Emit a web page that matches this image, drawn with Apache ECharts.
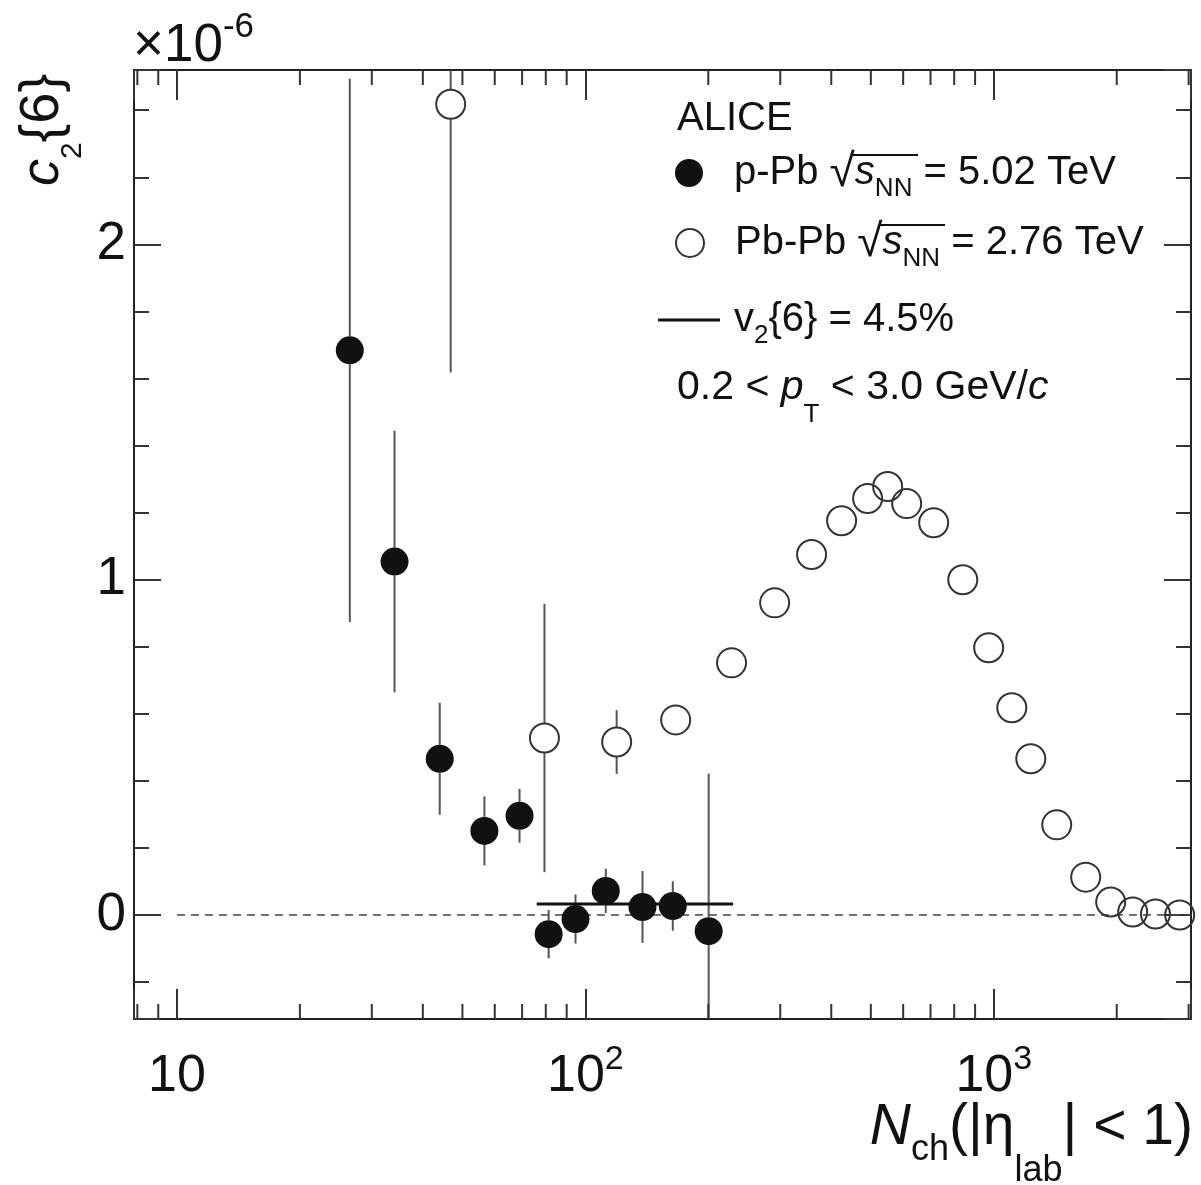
<!DOCTYPE html>
<html>
<head>
<meta charset="utf-8">
<script src="https://cdn.jsdelivr.net/npm/echarts@6/dist/echarts.min.js"></script>
<style>
html, body { margin: 0; padding: 0; background: #fff; }
#chart { width: 1201px; height: 1185px; }
</style>
</head>
<body>
<div id="chart"></div>
<script>
// axis ranges
var xMin = 7.85, xMax = 3040;
var yMin = -0.31, yMax = 2.52;

// p-Pb 5.02 TeV (filled)
var pPbX = [26.5, 34.1, 44.0, 56.6, 69.0, 81.3, 94.6, 112.2, 138, 163.7, 200.4];
var pPbY = [1.684, 1.054, 0.466, 0.251, 0.296, -0.057, -0.012, 0.072, 0.024, 0.027, -0.048];
var pPbErr = [0.81, 0.39, 0.167, 0.103, 0.08, 0.072, 0.073, 0.066, 0.107, 0.074, 0.47];

// Pb-Pb 2.76 TeV (open)
var PbPbX = [46.8, 79.4, 119.3, 166.4, 228, 290.7, 358, 424, 491, 549.7, 612, 712.6, 839.6, 971.6, 1107, 1232, 1426, 1679, 1933, 2188, 2488, 2852];
var PbPbY = [2.418, 0.528, 0.516, 0.582, 0.752, 0.931, 1.075, 1.176, 1.242, 1.278, 1.227, 1.170, 1.0, 0.797, 0.618, 0.466, 0.269, 0.113, 0.039, 0.009, 0.003, 0.0];
var PbPbErr = [0.80, 0.40, 0.095, 0.02, 0.02, 0.02, 0.02, 0.02, 0.02, 0.02, 0.02, 0.02, 0.02, 0.02, 0.02, 0.02, 0.02, 0.02, 0.02, 0.02, 0.02, 0.02];

// v2{6} = 4.5%  ->  c2{6} = 4 * v^6
var v2X = [76, 230];
var v2Val = 4 * Math.pow(0.045, 6) * 1e6;

// ticks
var xMajorTicks = [10, 100, 1000];
var xTickLabels = ['10', '10{sup|2}', '10{sup|3}'];
var xMinorTicks = [8, 9, 20, 30, 40, 50, 60, 70, 80, 90, 200, 300, 400, 500, 600, 700, 800, 900, 2000, 3000];
var yTicks = [0, 1, 2];
var zeroLineX = [10, xMax];

var FONT = 'Liberation Sans, Arial, Helvetica, sans-serif';

function pairs(xs, ys, es) {
    return xs.map(function (x, i) { return es ? [x, ys[i], es[i]] : [x, ys[i]]; });
}

// vertical error bars, broken around the marker like ROOT does
function errBars(radius) {
    return function (params, api) {
        var x = api.value(0), y = api.value(1), e = api.value(2);
        var c = api.coord([x, y]);
        var hi = api.coord([x, y + e]);
        var lo = api.coord([x, y - e]);
        var st = { stroke: '#555', lineWidth: 2 };
        var kids = [];
        if (c[1] - hi[1] > radius) kids.push({ type: 'line', shape: { x1: c[0], y1: hi[1], x2: c[0], y2: c[1] - radius }, style: st });
        if (lo[1] - c[1] > radius) kids.push({ type: 'line', shape: { x1: c[0], y1: c[1] + radius, x2: c[0], y2: lo[1] }, style: st });
        return { type: 'group', children: kids };
    };
}

// log-axis minor ticks (bottom and top)
function minorTicks(params, api) {
    var p = api.coord([api.value(0), yMin]);
    var top = params.coordSys.y;
    var st = { stroke: '#333', lineWidth: 2 };
    return {
        type: 'group',
        children: [
            { type: 'line', shape: { x1: p[0], y1: p[1], x2: p[0], y2: p[1] - 15 }, style: st },
            { type: 'line', shape: { x1: p[0], y1: top, x2: p[0], y2: top + 15 }, style: st }
        ]
    };
}

var chart = echarts.init(document.getElementById('chart'));

var axisLineStyle = { show: true, onZero: false, lineStyle: { color: '#222', width: 2 } };
var tickStyle = { color: '#333', width: 2 };

var legendRich = {
    it: { fontStyle: 'italic' },
    sub: { fontSize: 26, verticalAlign: 'bottom' },
    sq: { fontSize: 46 }
};
var legendText = { fontSize: 40, lineHeight: 57, color: '#111', fontFamily: FONT, rich: legendRich };

var option = {
    animation: false,
    backgroundColor: '#fff',
    grid: { left: 134, right: 10, top: 70, bottom: 166, show: true, borderColor: '#222', borderWidth: 2, backgroundColor: 'transparent' },
    xAxis: [{
        type: 'log', logBase: 10, min: xMin, max: xMax, position: 'bottom',
        axisLine: axisLineStyle,
        axisTick: { inside: true, length: 30, lineStyle: tickStyle },
        splitLine: { show: false },
        axisLabel: {
            margin: 24, fontSize: 52, lineHeight: 67, color: '#111', fontFamily: FONT, hideOverlap: false,
            formatter: function (v) {
                for (var i = 0; i < xMajorTicks.length; i++) {
                    if (Math.abs(v - xMajorTicks[i]) < 1e-6 * xMajorTicks[i]) return xTickLabels[i];
                }
                return '';
            },
            rich: { sup: { fontSize: 34, verticalAlign: 'top' } }
        }
    }, {
        type: 'log', logBase: 10, min: xMin, max: xMax, position: 'top',
        axisLine: axisLineStyle,
        axisTick: { inside: true, length: 30, lineStyle: tickStyle },
        splitLine: { show: false },
        axisLabel: { show: false }
    }],
    yAxis: [{
        type: 'value', min: yMin, max: yMax, splitNumber: 3, position: 'left',
        axisLine: axisLineStyle,
        axisTick: { inside: true, length: 27, lineStyle: tickStyle },
        minorTick: { show: true, splitNumber: 5, length: 15, lineStyle: tickStyle },
        splitLine: { show: false },
        axisLabel: {
            margin: 8, fontSize: 53, color: '#111', fontFamily: FONT,
            formatter: function (v) {
                for (var i = 0; i < yTicks.length; i++) if (Math.abs(v - yTicks[i]) < 1e-9) return String(yTicks[i]);
                return '';
            }
        }
    }, {
        type: 'value', min: yMin, max: yMax, splitNumber: 3, position: 'right',
        axisLine: axisLineStyle,
        axisTick: { inside: true, length: 27, lineStyle: tickStyle },
        minorTick: { show: true, splitNumber: 5, length: 15, lineStyle: tickStyle },
        splitLine: { show: false },
        axisLabel: { show: false }
    }],
    legend: [{
        left: 675, top: 144.5, padding: 0, itemWidth: 28, itemHeight: 28, icon: 'circle',
        data: ['p-Pb'],
        textStyle: Object.assign({ padding: [0, 0, 0, 26] }, legendText),
        formatter: function () { return 'p-Pb {sq|√}{it|s}{sub|NN} = 5.02 TeV'; }
    }, {
        left: 675, top: 214.5, padding: 0, itemWidth: 28, itemHeight: 28, icon: 'circle',
        data: ['Pb-Pb'],
        textStyle: Object.assign({ padding: [0, 0, 0, 26] }, legendText),
        formatter: function () { return 'Pb-Pb {sq|√}{it|s}{sub|NN} = 2.76 TeV'; }
    }, {
        left: 658, top: 291.5, padding: 0, itemWidth: 62, itemHeight: 3,
        data: [{ name: 'v2', icon: 'rect' }],
        textStyle: Object.assign({ padding: [0, 0, 0, 9] }, legendText),
        formatter: function () { return 'v{sub|2}{6} = 4.5%'; }
    }],
    graphic: [
        { type: 'text', left: 133, top: 10, style: { text: '×10{sup|-6}', fontSize: 53, lineHeight: 73, fill: '#111', fontFamily: FONT,
            rich: { sup: { fontSize: 35, fontFamily: FONT, verticalAlign: 'top' } } } },
        { type: 'text', x: 43, y: 130, rotation: Math.PI / 2, style: { text: '{i|c}{s|2}{6}', fontSize: 56, lineHeight: 90, fill: '#111', fontFamily: FONT, align: 'center', verticalAlign: 'middle',
            rich: { i: { fontStyle: 'italic', fontSize: 54, fontFamily: FONT }, s: { fontSize: 30, fontFamily: FONT, verticalAlign: 'bottom' } } } },
        { type: 'text', x: 1193, y: 1128, style: { text: '{i|N}{c|ch}(|η{s|lab}| < 1)', fontSize: 57, lineHeight: 122, fill: '#111', fontFamily: FONT, align: 'right', verticalAlign: 'middle',
            rich: { i: { fontStyle: 'italic', fontSize: 57, fontFamily: FONT },
                    c: { fontSize: 36, fontFamily: FONT, verticalAlign: 'bottom', padding: [0, 0, 21, 0] },
                    s: { fontSize: 36, fontFamily: FONT, verticalAlign: 'bottom' } } } },
        { type: 'text', x: 677, y: 119, style: { text: 'ALICE', fontSize: 40, fill: '#111', fontFamily: FONT, verticalAlign: 'middle' } },
        { type: 'text', x: 677, y: 388, style: { text: '0.2 < {i|p}{s|T} < 3.0 GeV/{i|c}', fontSize: 41, lineHeight: 80, fill: '#111', fontFamily: FONT, verticalAlign: 'middle',
            rich: { i: { fontStyle: 'italic', fontSize: 41, fontFamily: FONT }, s: { fontSize: 26, fontFamily: FONT, verticalAlign: 'bottom' } } } },
        // overbars of the square roots
        { type: 'line', shape: { x1: 853, y1: 155, x2: 918, y2: 155 }, style: { stroke: '#111', lineWidth: 2 } },
        { type: 'line', shape: { x1: 880, y1: 225, x2: 945, y2: 225 }, style: { stroke: '#111', lineWidth: 2 } }
    ],
    series: [{
        name: 'pPbErr', type: 'custom', renderItem: errBars(14), clip: true, silent: true, z: 1,
        data: pairs(pPbX, pPbY, pPbErr), encode: { x: 0, y: 1 }
    }, {
        name: 'PbPbErr', type: 'custom', renderItem: errBars(15), clip: true, silent: true, z: 1,
        data: pairs(PbPbX, PbPbY, PbPbErr), encode: { x: 0, y: 1 }
    }, {
        name: 'zero', type: 'line', data: pairs(zeroLineX, [0, 0]), symbol: 'none', silent: true, z: 1,
        lineStyle: { color: '#444', width: 1.5, type: [8, 6] }
    }, {
        name: 'v2', type: 'line', data: pairs(v2X, [v2Val, v2Val]), symbol: 'none', silent: true, z: 3,
        lineStyle: { color: '#111', width: 3 }, itemStyle: { color: '#111' }
    }, {
        name: 'p-Pb', type: 'scatter', data: pairs(pPbX, pPbY), symbol: 'circle', symbolSize: 28, z: 4,
        itemStyle: { color: '#111', opacity: 1 }
    }, {
        name: 'Pb-Pb', type: 'scatter', data: pairs(PbPbX, PbPbY), symbol: 'circle', symbolSize: 29, z: 4,
        itemStyle: { color: 'rgba(255,255,255,0)', borderColor: '#333', borderWidth: 2, opacity: 1 }
    }, {
        name: 'minorTicks', type: 'custom', renderItem: minorTicks, clip: false, silent: true, z: 5,
        data: xMinorTicks.map(function (v) { return [v, yMin]; }), encode: { x: 0, y: 1 }
    }]
};

chart.setOption(option);
</script>
</body>
</html>
